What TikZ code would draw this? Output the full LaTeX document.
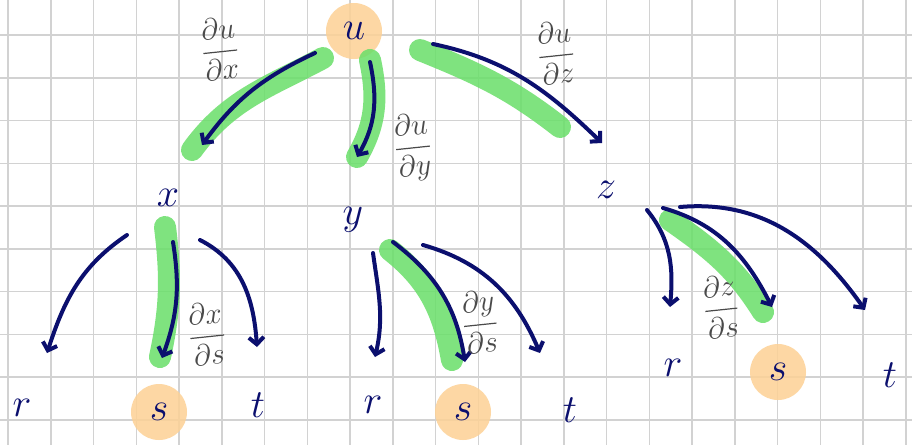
\RequirePackage{fix-cm}
\documentclass[tikz,border=0pt]{standalone}
\usepackage{amsmath,amssymb}
\usepackage{tikz}
\usetikzlibrary{arrows.meta,calc}
\definecolor{cNavy}{HTML}{0B0F6E}
\definecolor{cGreen}{HTML}{69DF69}
\definecolor{cPeach}{HTML}{FDD195}
\definecolor{cGrid}{HTML}{D2D2D2}
\definecolor{cPencil}{HTML}{4A4A4A}

\begin{document}
\begin{tikzpicture}[x=1pt, y=1pt,
    gridline/.style={cGrid, line width=1.5pt},
    letter/.style={circle, inner sep=0pt, minimum size=16pt, text=cNavy,
      font=\fontsize{40}{40}\selectfont},
    picked/.style={letter, fill=cPeach, fill opacity=0.85, text opacity=1,
      minimum size=56pt},
    pencil/.style={text=cPencil, rotate=6, font=\fontsize{30}{34}\selectfont},
    edge/.style={cNavy, line width=4pt, line cap=round,
      -{Straight Barb[length=7pt,width=15pt]}},
    marker/.style={cGreen, opacity=0.85, line width=22pt, line cap=round}]
    \fill[white] (0,0) rectangle (912,-445);
    \useasboundingbox (0,0) rectangle (912,-445);

    % --- squared paper ----------------------------------------------
    \foreach \i in {0,...,21}
      \draw[gridline] ({8+42.75*\i},0) -- ({8+42.75*\i},-445);
    \foreach \j in {0,...,9}
      \draw[gridline] (0,{-35-42.75*\j}) -- (912,{-35-42.75*\j});

    % --- variables --------------------------------------------------
    \node[picked] (u) at (354,-31) {$u$};
    \node[letter] (x) at (168,-198) {$x$};
    \node[letter] (y) at (353,-220) {$y$};
    \node[letter] (z) at (606,-190) {$z$};
    \node[letter] (r1) at (22,-408) {$r$};
    \node[picked] (s1) at (159,-412) {$s$};
    \node[letter] (t1) at (258,-405) {$t$};
    \node[letter] (r2) at (373,-405) {$r$};
    \node[picked] (s2) at (463,-412) {$s$};
    \node[letter] (t2) at (570,-410) {$t$};
    \node[letter] (r3) at (673,-368) {$r$};
    \node[picked] (s3) at (778,-372) {$s$};
    \node[letter] (t3) at (890,-375) {$t$};

    % --- green path u -> s, under the arrows -----------------------
    \foreach \a/\sa/\b/\eb/\o/\i in {%
        u/{-31,-27}/x/{24,48}/208/54,
        u/{16,-29}/y/{4,63}/282/60,
        u/{66,-19}/z/{-46,63}/338/142,
        x/{-3,-29}/s1/{1,55}/277/78,
        y/{37,-30}/s2/{-11,52}/322/100,
        z/{64,-30}/s3/{-15,60}/325/122}
    {
      \draw[marker] ($(\a)+(\sa)$) to[out=\o,in=\i] ($(\b)+(\eb)$);
    }

    % --- arrows -----------------------------------------------------
    \foreach \a/\sa/\b/\eb/\o/\i in {%
        u/{-39,-22}/x/{34,53}/205/54,
        u/{16,-31}/y/{4,63}/282/60,
        u/{79,-13}/z/{-4,47}/348/136,
        x/{-41,-37}/r1/{25,55}/214/72,
        x/{5,-44}/s1/{3,54}/279/70,
        x/{32,-42}/t1/{-1,58}/333/94,
        y/{20,-33}/r2/{2,48}/278/77,
        y/{40,-22}/s2/{2,50}/323/99,
        y/{70,-25}/t2/{-30,57}/344/113,
        z/{41,-20}/r3/{-3,61}/309/85,
        z/{57,-18}/s3/{-6,65}/344/117,
        z/{74,-17}/t3/{-25,65}/5/125}
    {
      \draw[edge] ($(\a)+(\sa)$) to[out=\o,in=\i] ($(\b)+(\eb)$);
    }

    % --- partial derivatives ----------------------------------------
    \node[pencil] (lux) at (220,-49) {$\dfrac{\partial u}{\partial x}$};
    \node[pencil] (luy) at (413,-148) {$\dfrac{\partial u}{\partial y}$};
    \node[pencil] (luz) at (556,-53) {$\dfrac{\partial u}{\partial z}$};
    \node[pencil] (lxs) at (207,-334) {$\dfrac{\partial x}{\partial s}$};
    \node[pencil] (lys) at (480,-322) {$\dfrac{\partial y}{\partial s}$};
    \node[pencil] (lzs) at (721,-307) {$\dfrac{\partial z}{\partial s}$};
  \end{tikzpicture}
\end{document}
